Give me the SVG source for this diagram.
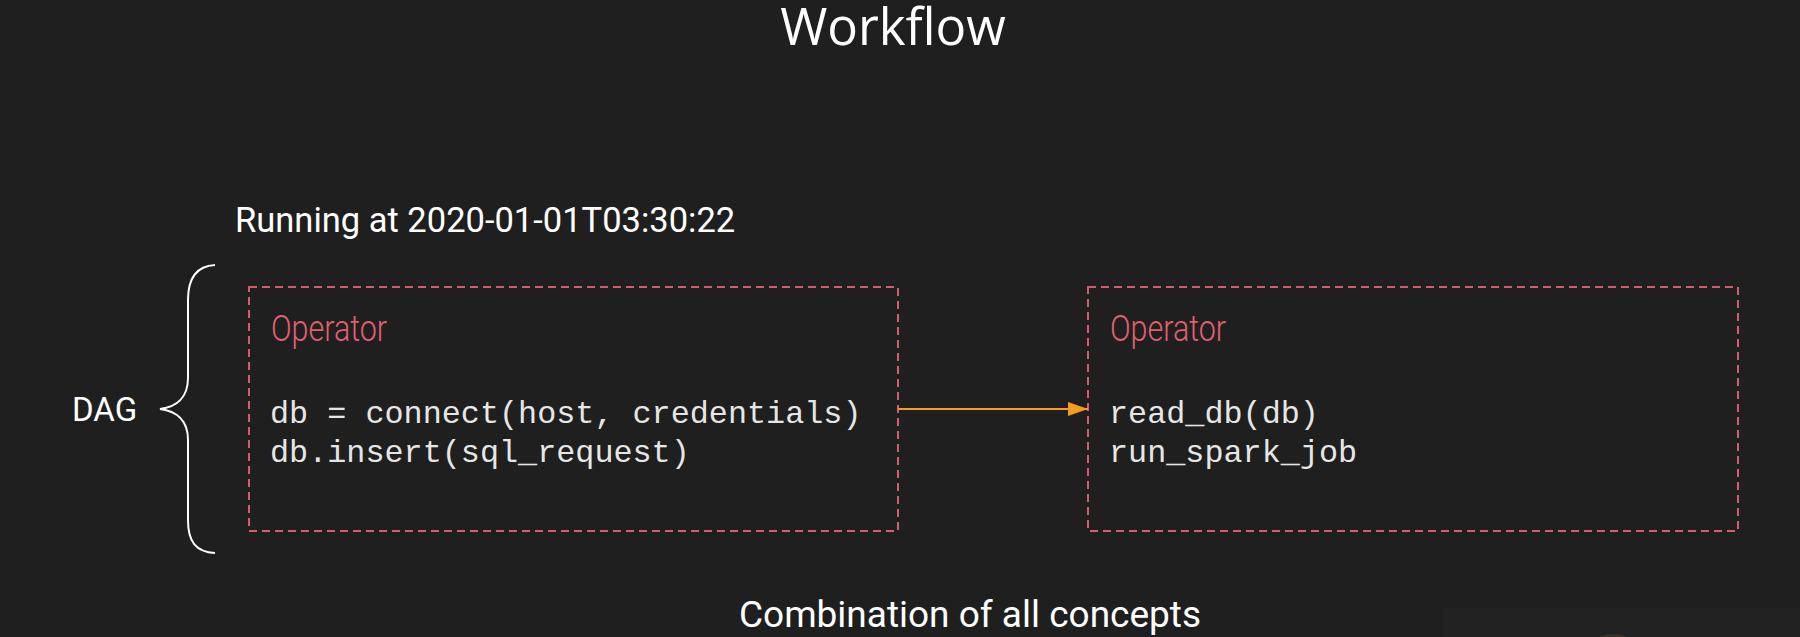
<svg xmlns="http://www.w3.org/2000/svg" width="1800" height="637" viewBox="0 0 1800 637">
  <defs>
    <marker id="arrow" viewBox="0 0 20 14" refX="20" refY="7" markerWidth="20" markerHeight="14" markerUnits="userSpaceOnUse" orient="auto">
      <path d="M0,0 L20,7 L0,14 Z" fill="#f39c1f"/>
    </marker>
    <style>
      .box { fill: none; stroke: #d65b6d; stroke-width: 2; stroke-dasharray: 8 5; }
      .op { font-family: Roboto, "Liberation Sans", sans-serif; font-weight: 300; font-size: 36px; fill: #e0606f; }
      .code { font-family: "Liberation Mono", "DejaVu Sans Mono", monospace; font-size: 31.8px; fill: #e6e6e6; }
      .label { font-family: Roboto, "Liberation Sans", sans-serif; fill: #ffffff; }
      .conn { stroke: #f39c1f; stroke-width: 2.2; fill: none; }
    </style>
  </defs>
  <rect x="0" y="0" width="1800" height="637" fill="#1f1f1f"/>
  <!-- faint overlay bottom right -->
  <rect x="1442" y="608" width="358" height="29" fill="#222222"/>
  <ellipse cx="1613" cy="646" rx="22" ry="12" fill="#4a3a22" opacity="0.6"/>

  <text x="893" y="45" text-anchor="middle" font-family="'Open Sans', 'Noto Sans', sans-serif" font-size="51" fill="#ffffff">Workflow</text>
  <text class="label" x="235" y="232" font-size="34.5">Running at 2020-01-01T03:30:22</text>

  <g id="dag">
    <path d="M215,265 C196,266 188,278 188,300 L188,378 C188,398 176,407 160,409 C176,411 188,420 188,440 L188,520 C188,542 196,552 215,553" fill="none" stroke="#ffffff" stroke-width="2"/>
    <text class="label" x="72" y="421" font-size="33">DAG</text>
  </g>

  <g id="operator1">
    <rect class="box" x="249" y="287" width="649" height="244"/>
    <text class="op" x="271" y="341" textLength="116" lengthAdjust="spacingAndGlyphs">Operator</text>
    <text class="code" x="270" y="423">db = connect(host, credentials)</text>
    <text class="code" x="270" y="462">db.insert(sql_request)</text>
  </g>

  <g id="operator2">
    <rect class="box" x="1088" y="287" width="650" height="244"/>
    <text class="op" x="1110" y="341" textLength="116" lengthAdjust="spacingAndGlyphs">Operator</text>
    <text class="code" x="1109" y="423">read_db(db)</text>
    <text class="code" x="1109" y="462">run_spark_job</text>
  </g>

  <g id="connectors">
    <line class="conn" x1="898" y1="409" x2="1088" y2="409" marker-end="url(#arrow)"/>
  </g>

  <text class="label" x="970" y="627" font-size="37" text-anchor="middle">Combination of all concepts</text>
</svg>
